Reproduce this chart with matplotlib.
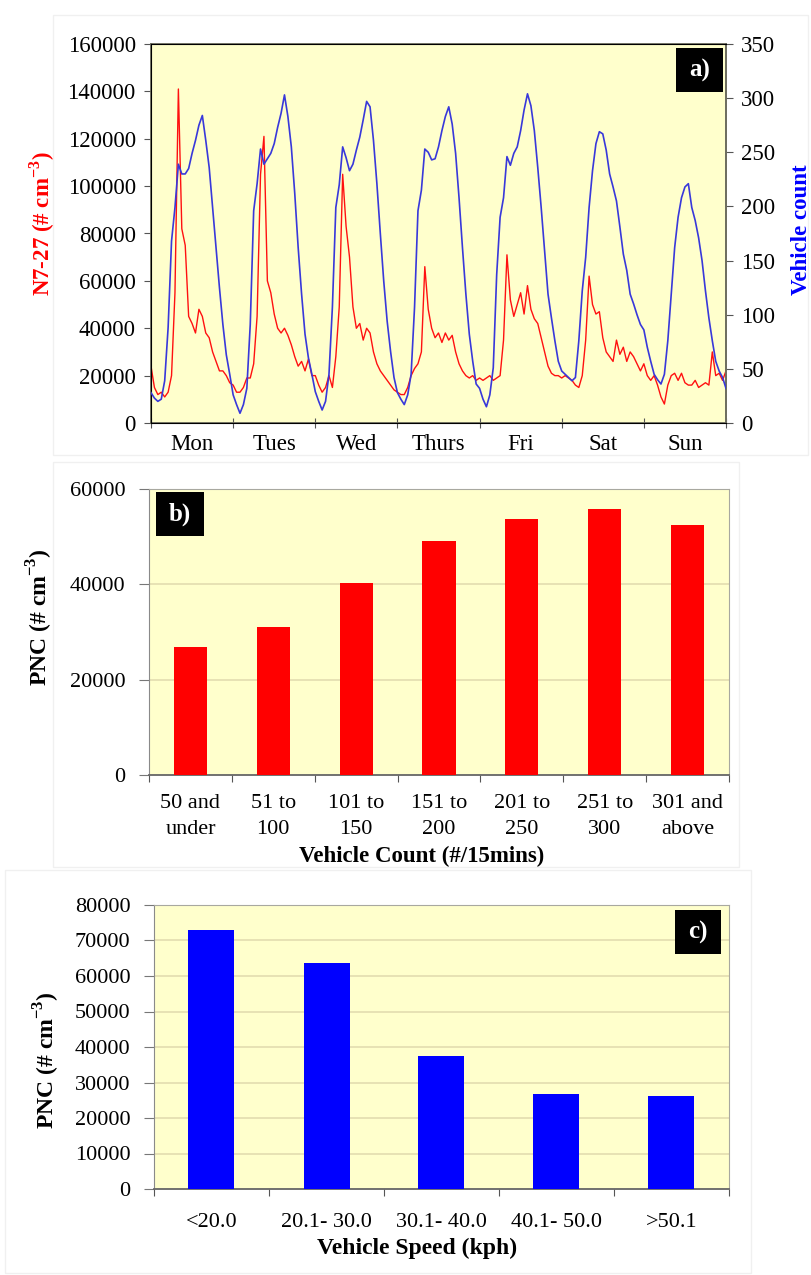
import numpy as np
import matplotlib
matplotlib.use("Agg")
import matplotlib.pyplot as plt
from matplotlib.patches import Rectangle

plt.rcParams['font.family'] = ['Liberation Serif', 'DejaVu Serif']
plt.rcParams['mathtext.fontset'] = 'custom'
plt.rcParams['mathtext.rm'] = 'Liberation Serif'
plt.rcParams['mathtext.bf'] = 'Liberation Serif:bold'

# ---------------- data ----------------
days = ['Mon', 'Tues', 'Wed', 'Thurs', 'Fri', 'Sat', 'Sun']

# hourly vehicle count (Mon 00:00 ... Sun 24:00)
vehicle_count = [
    28, 23, 20, 22, 39, 88, 168, 199, 239, 230, 230, 235, 249, 261, 275, 284, 261, 236, 199, 162, 125, 91, 63, 45,
    26, 17, 9, 17, 32, 91, 196, 221, 253, 239, 244, 249, 258, 273, 286, 303, 283, 255, 212, 162, 119, 82, 60, 45,
    29, 20, 12, 20, 45, 107, 199, 220, 255, 245, 233, 239, 252, 264, 280, 297, 292, 261, 221, 175, 131, 94, 66, 42,
    28, 22, 17, 26, 45, 107, 196, 215, 253, 250, 243, 244, 255, 270, 283, 292, 276, 249, 208, 162, 119, 82, 57, 36,
    32, 22, 15, 26, 51, 137, 190, 208, 246, 238, 249, 255, 270, 289, 304, 293, 270, 236, 199, 159, 119, 97, 76, 57,
    48, 45, 42, 39, 42, 76, 122, 153, 199, 233, 258, 269, 267, 252, 230, 218, 205, 181, 156, 141, 119, 110, 100, 91,
    86, 70, 57, 45, 40, 36, 45, 76, 119, 162, 190, 208, 218, 221, 199, 187, 171, 150, 122, 97, 76, 57, 48, 42,
    32,
]

# hourly N7-27 particle number concentration (thousands # cm-3)
n727_k = [
    24, 15, 12, 13, 11, 13, 20, 55, 141, 82, 75, 45, 42, 38, 48, 45, 38, 36, 30, 26, 22, 22, 20, 17,
    16, 13, 13, 15, 19, 19, 25, 45, 105, 121, 60, 55, 46, 40, 38, 40, 37, 33, 28, 24, 26, 22, 27, 20,
    20, 16, 13, 15, 20, 15, 28, 49, 105, 83, 70, 49, 40, 42, 35, 40, 38, 30, 25, 22, 20, 18, 16, 14,
    13, 12, 12, 15, 20, 23, 25, 30, 66, 48, 40, 36, 38, 34, 38, 35, 37, 30, 25, 22, 20, 19, 20, 18,
    19, 18, 19, 20, 18, 19, 20, 35, 71, 52, 45, 50, 55, 46, 58, 48, 44, 42, 36, 30, 24, 21, 20, 20,
    19, 20, 19, 18, 16, 15, 20, 35, 62, 50, 46, 47, 36, 30, 28, 26, 35, 29, 32, 26, 30, 28, 25, 22,
    25, 20, 18, 20, 16, 11, 8, 16, 20, 21, 18, 21, 17, 16, 16, 18, 15, 16, 17, 16, 30, 20, 21, 18,
    22,
]

count_bins = ['50 and\nunder', '51 to\n100', '101 to\n150', '151 to\n200',
              '201 to\n250', '251 to\n300', '301 and\nabove']
pnc_by_count = [26900, 31100, 40300, 49000, 53700, 55900, 52400]

speed_bins = ['<20.0', '20.1- 30.0', '30.1- 40.0', '40.1- 50.0', '>50.1']
pnc_by_speed = [73000, 63600, 37500, 26700, 26300]

# ---------------- layout ----------------
W, H = 812, 1275
fig = plt.figure(figsize=(W / 100, H / 100), dpi=100)
BG = '#FFFFCC'
GRID = '#E3DDB0'
TICK_FS = 16


def rect(l, t, r, b):
    return [l / W, 1 - b / H, (r - l) / W, (b - t) / H]


def fx(x):
    return x / W


def fy(y):
    return 1 - y / H


# faint panel frames
for (l, t, r, b) in [(53, 15, 808, 455), (53, 462, 739, 867), (5, 870, 751, 1273)]:
    fig.add_artist(Rectangle((fx(l), fy(b)), (r - l) / W, (b - t) / H,
                             transform=fig.transFigure, fill=False,
                             ec='#F0F0F0', lw=1.0, zorder=0))

# ---------------- panel a ----------------
ax = fig.add_axes(rect(151, 44, 726, 423))
ax.set_facecolor(BG)
hours = np.arange(len(n727_k))
ax.plot(hours, np.array(n727_k) * 1000, color='#FF1010', lw=1.0, zorder=3)
ax.set_xlim(0, 168)
ax.set_ylim(0, 160000)
ax.set_yticks(np.arange(0, 160001, 20000))
ax.set_xticks(np.arange(0, 169, 24))
ax.set_xticklabels([])
ax.set_xticks(np.arange(12, 168, 24), minor=True)
ax.set_xticklabels(days, minor=True)
ax.tick_params(axis='x', which='minor', length=0, pad=8, labelsize=TICK_FS + 0.5)
ax.tick_params(axis='x', which='major', direction='inout', length=7, color='#555555')
ax.tick_params(axis='y', labelsize=TICK_FS + 0.5, length=5, pad=6, color='#555555')
for s in ['top', 'bottom', 'left', 'right']:
    ax.spines[s].set_color('#6E6E60')
    ax.spines[s].set_linewidth(1.3)

ax2 = ax.twinx()
ax2.plot(np.arange(len(vehicle_count)), vehicle_count, color='#3838DA', lw=1.2, zorder=4)
ax2.set_ylim(0, 350)
ax2.set_yticks(np.arange(0, 351, 50))
ax2.tick_params(axis='y', labelsize=TICK_FS + 0.5, length=5, pad=6, color='#555555')
ax2.spines['right'].set_color('#6E6E60')
ax2.spines['right'].set_linewidth(1.3)

fig.text(fx(42), fy(224), r'N7-27 (# cm$^{\mathbf{-3}}$)', color='#FF0000',
         fontsize=16.5, fontweight='bold', rotation=90, ha='center', va='center')
fig.text(fx(802), fy(230), 'Vehicle count', color='#0000FF',
         fontsize=16.5, fontweight='bold', rotation=90, ha='center', va='center')

fig.add_artist(Rectangle((fx(676), fy(92)), 47 / W, 44 / H, transform=fig.transFigure,
                         fc='black', ec='none', zorder=10))
fig.text(fx(699.5), fy(70), 'a)', color='white', fontsize=18, fontweight='bold',
         ha='center', va='center', zorder=11)


# ---------------- bar panels ----------------
def bar_panel(box, cats, vals, color, ymax, ystep, gridvals, pad, lsp):
    a = fig.add_axes(rect(*box))
    a.set_facecolor(BG)
    x = np.arange(len(cats))
    a.bar(x, vals, width=0.4, color=color, zorder=3)
    a.set_xlim(-0.5, len(cats) - 0.5)
    a.set_ylim(0, ymax)
    a.set_yticks(np.arange(0, ymax + 1, ystep))
    for g in gridvals:
        a.axhline(g, color=GRID, lw=1.2, zorder=1)
    a.set_xticks(np.arange(len(cats) + 1) - 0.5)
    a.set_xticklabels([])
    a.set_xticks(x, minor=True)
    a.set_xticklabels(cats, minor=True, linespacing=lsp)
    a.tick_params(axis='x', which='minor', length=0, pad=pad, labelsize=TICK_FS)
    a.tick_params(axis='x', which='major', direction='out', length=5, color='#555555')
    a.tick_params(axis='y', labelsize=TICK_FS, length=7, pad=10, color='#777777')
    a.spines['top'].set_color('#A8A8A0')
    a.spines['right'].set_color('#A8A8A0')
    a.spines['left'].set_color('#8A8A8A')
    a.spines['bottom'].set_color('#666666')
    a.spines['bottom'].set_linewidth(1.3)
    return a


axb = bar_panel((149, 489, 729, 775), count_bins, pnc_by_count, '#FF0000',
                60000, 20000, [20000, 40000], 14, 1.5)
fig.text(fx(40), fy(617), r'PNC (# cm$^{\mathbf{-3}}$)', fontsize=17,
         fontweight='bold', rotation=90, ha='center', va='center')
fig.text(fx(422), fy(856), 'Vehicle Count (#/15mins)', fontsize=16.5,
         fontweight='bold', ha='center', va='center')
fig.add_artist(Rectangle((fx(156), fy(536)), 48 / W, 44 / H, transform=fig.transFigure,
                         fc='black', ec='none', zorder=10))
fig.text(fx(180), fy(514), 'b)', color='white', fontsize=18, fontweight='bold',
         ha='center', va='center', zorder=11)

axc = bar_panel((154, 905, 729, 1189), speed_bins, pnc_by_speed, '#0000FF',
                80000, 10000, list(range(10000, 80000, 10000)), 17, 1.2)
fig.text(fx(47), fy(1060), r'PNC (# cm$^{\mathbf{-3}}$)', fontsize=17,
         fontweight='bold', rotation=90, ha='center', va='center')
fig.text(fx(417), fy(1248), 'Vehicle Speed (kph)', fontsize=17,
         fontweight='bold', ha='center', va='center')
fig.add_artist(Rectangle((fx(675), fy(954)), 46 / W, 44 / H, transform=fig.transFigure,
                         fc='black', ec='none', zorder=10))
fig.text(fx(698), fy(932), 'c)', color='white', fontsize=18, fontweight='bold',
         ha='center', va='center', zorder=11)

fig.savefig('out.png', dpi=100, facecolor='white')
